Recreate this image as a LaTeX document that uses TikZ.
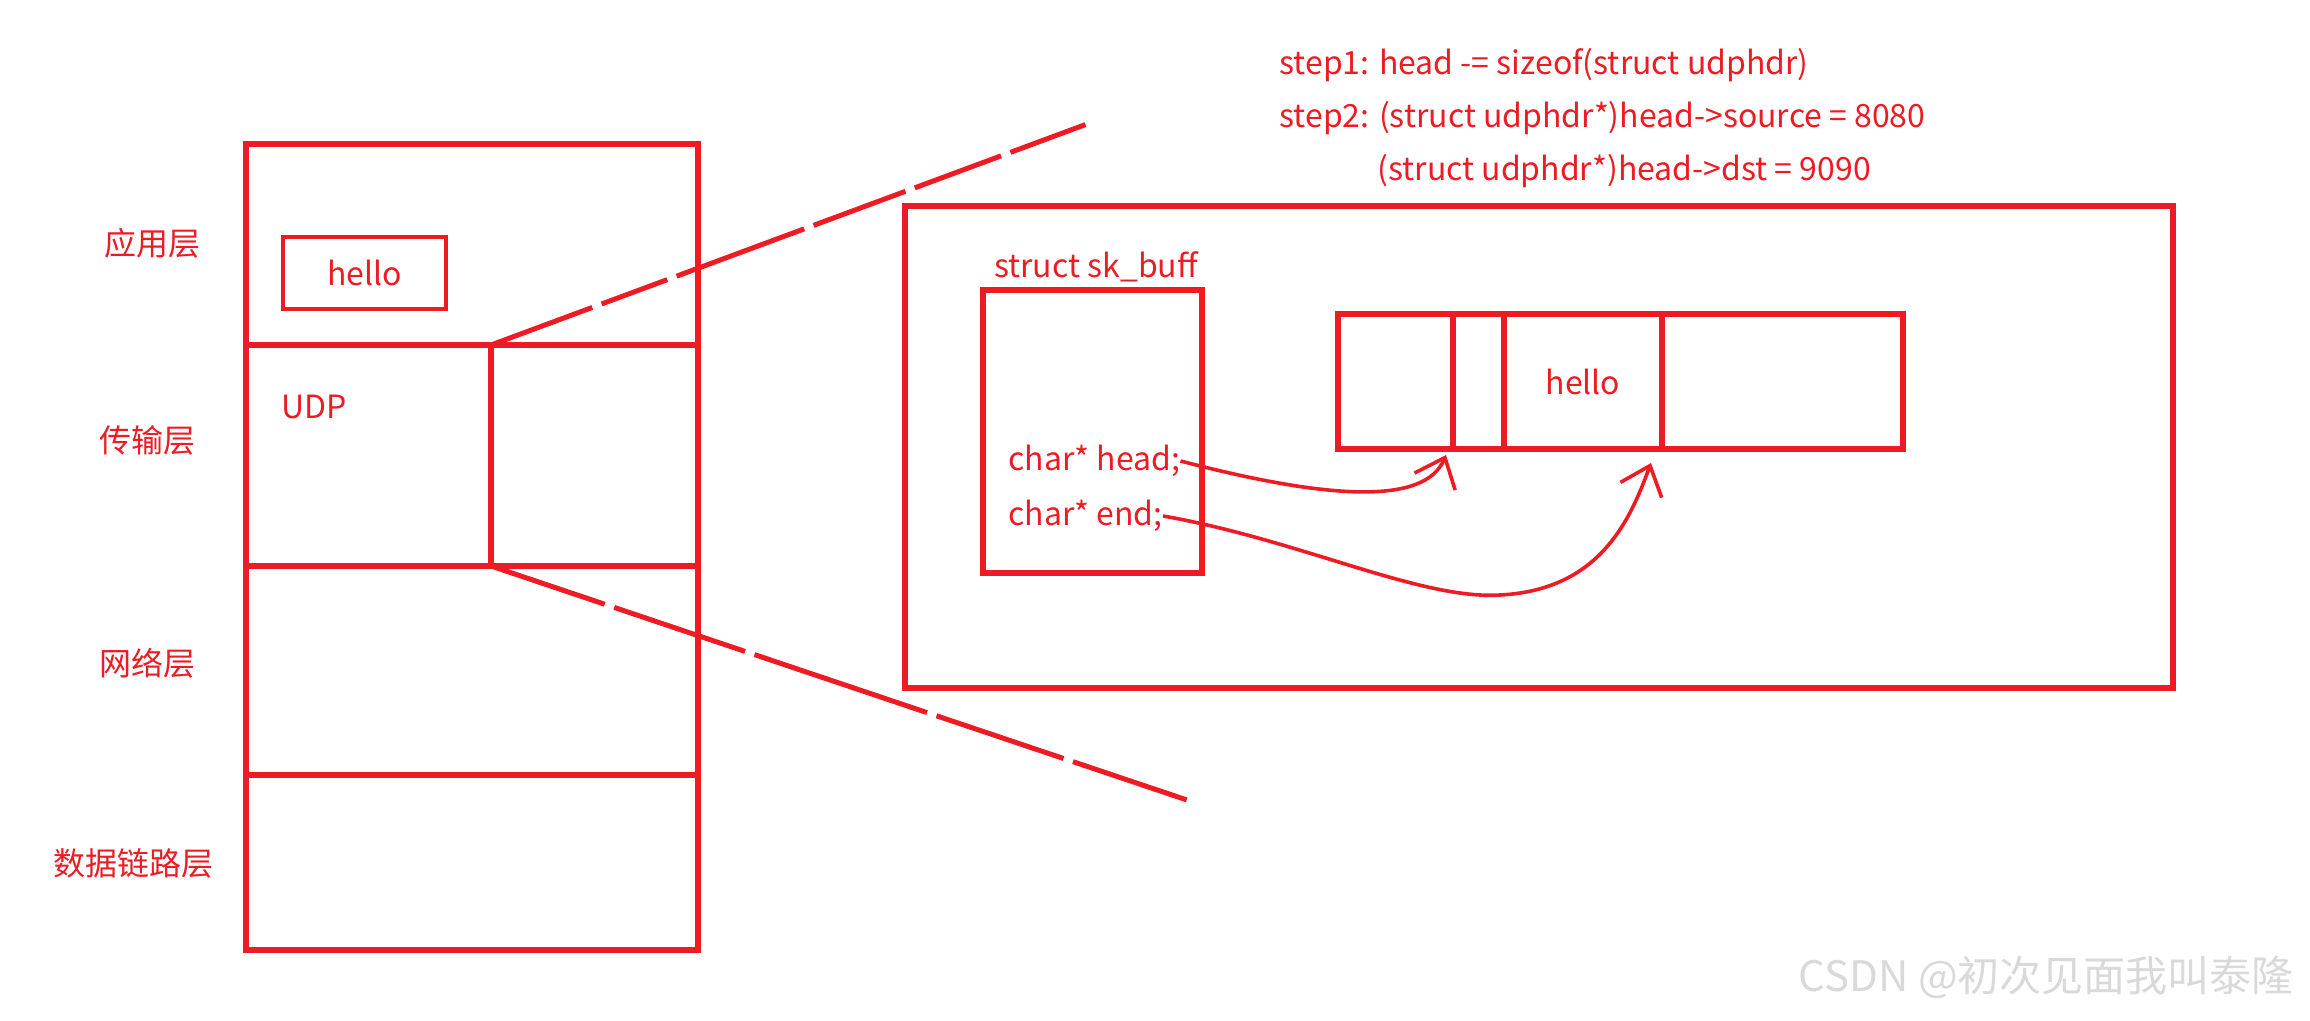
\documentclass[tikz,border=0pt]{standalone}
\usepackage{fontspec}
\setmainfont{Noto Sans CJK SC}
\usepackage{tikz}
\usetikzlibrary{positioning, arrows.meta}

\definecolor{pen}{RGB}{237,28,36}

\begin{document}
\begin{tikzpicture}[
    x=0.5pt, y=-0.5pt,
    cell/.style={rectangle, draw=pen, line width=2.6pt, inner sep=0pt, outer sep=0pt},
    lbl/.style={text=pen, font=\fontsize{16}{19}\selectfont, inner sep=0pt},
    zoomline/.style={pen, line width=2.5pt},
    ptr/.style={pen, line width=1.8pt, -{Straight Barb[length=13pt, width=22pt]}}
]
\useasboundingbox (0,0) rectangle (2310,1021);

% protocol stack
\node[cell, minimum width=226pt, minimum height=100.5pt, anchor=north west] (app) at (246,144) {};
\node[cell, minimum width=226pt, minimum height=110.5pt, below=0pt of app] (trans) {};
\node[cell, minimum width=226pt, minimum height=104.5pt, below=0pt of trans] (net) {};
\node[cell, minimum width=226pt, minimum height=87.5pt, below=0pt of net] (link) {};
\node[cell, minimum width=103.5pt, minimum height=110.5pt, anchor=north east] (udphdr) at (trans.north east) {};

\node[lbl] (applbl) at (152,243) {应用层};
\node[lbl] (translbl) at (147,440) {传输层};
\node[lbl] (netlbl) at (147,663) {网络层};
\node[lbl] (linklbl) at (133,863) {数据链路层};

\node[cell, lbl, line width=2.3pt, minimum width=81.5pt, minimum height=36pt] (apphello) at (364.5,273) {hello};
\node[lbl, anchor=west] (udp) at (281,407) {UDP};

% zoom lines
\coordinate (zoomtop) at (1087,124);
\coordinate (zoombot) at (1187,800);
\draw[zoomline, dash pattern=on 54pt off 5pt on 35pt off 5pt on 68pt off 5pt on 49pt off 5pt on 46pt off 5pt on 40pt off 5pt]
    (udphdr.north west) -- (zoomtop);
\draw[zoomline, dash pattern=on 60pt off 5pt on 69pt off 5pt on 91pt off 5pt on 67pt off 5pt on 60pt off 5pt]
    (udphdr.south west) -- (zoombot);

% steps
\node[lbl, anchor=west] (step1) at (1279,65) {step1: head -= sizeof(struct udphdr)};
\node[lbl, anchor=west] (step2) at (1279,118) {step2: (struct udphdr*)head->source = 8080};
\node[lbl, anchor=west] (step3) at (1377,171) {(struct udphdr*)head->dst = 9090};

% kernel view
\node[cell, minimum width=634pt, minimum height=241pt, anchor=north west] (kernel) at (905,206) {};
\node[cell, minimum width=109.5pt, minimum height=141.5pt, anchor=north west] (skb) at (983,290) {};
\node[lbl] (skbname) at (1096,267) {struct sk\_buff};
\node[lbl, anchor=west] (headptr) at (1008,461) {char* head;};
\node[lbl, anchor=west] (endptr) at (1008,516) {char* end;};

\node[cell, minimum width=57.5pt, minimum height=67.5pt, anchor=north west] (seg1) at (1338,314) {};
\node[cell, minimum width=25.5pt, minimum height=67.5pt, right=0pt of seg1] (seg2) {};
\node[cell, lbl, minimum width=79pt, minimum height=67.5pt, right=0pt of seg2] (seg3) {hello};
\node[cell, minimum width=120.5pt, minimum height=67.5pt, right=0pt of seg3] (seg4) {};

\coordinate (headtip) at (1446,455);
\coordinate (endtip) at (1651,463);
\draw[ptr] (headptr.east) .. controls (1330,500) and (1425,505) .. (headtip);
\draw[ptr] (endptr.east) .. controls (1300,540) and (1420,600) .. (1500,595)
    .. controls (1600,590) and (1630,520) .. (endtip);

\node[anchor=east, text=gray!30, font=\fontsize{21}{24}\selectfont] (mark) at (2301,977) {CSDN @初次见面我叫泰隆};
\end{tikzpicture}
\end{document}
